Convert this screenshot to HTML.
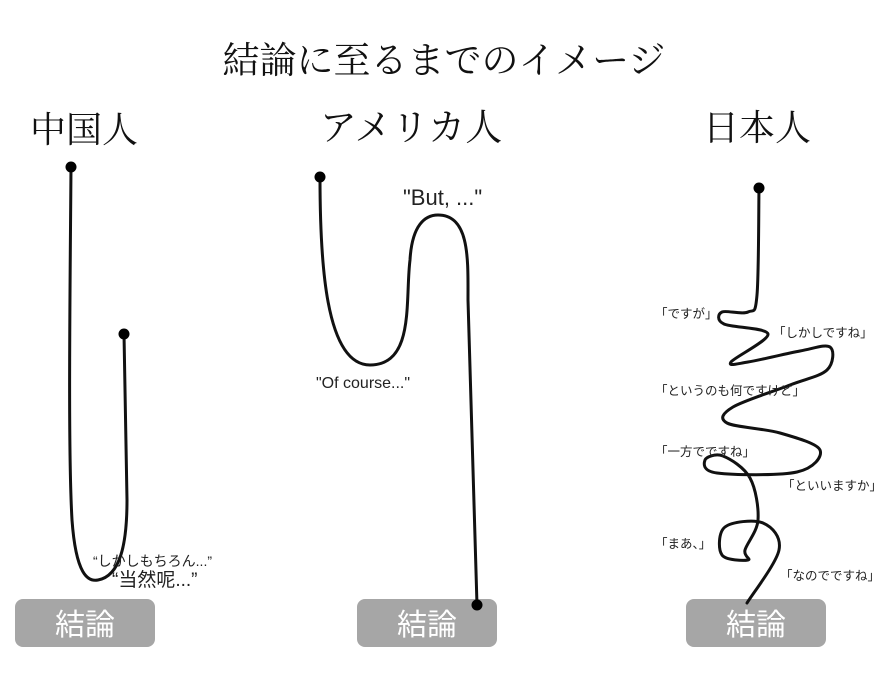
<!DOCTYPE html>
<html><head><meta charset="utf-8"><style>
body{margin:0;background:#fff;width:888px;height:700px;overflow:hidden}
svg{display:block}
.s{font-family:"Liberation Serif","Noto Serif CJK SC",serif}
.a{font-family:"Liberation Sans","Noto Sans CJK JP",sans-serif}
</style></head><body>
<svg width="888" height="700" viewBox="0 0 888 700" xmlns="http://www.w3.org/2000/svg">
<text class="s" x="444" y="73" font-size="37" text-anchor="middle" fill="#111">結論に至るまでのイメージ</text>
<text class="s" x="84" y="142" font-size="36" text-anchor="middle" fill="#111">中国人</text>
<text class="s" x="411" y="140" font-size="37" text-anchor="middle" fill="#111">アメリカ人</text>
<text class="s" x="757" y="140" font-size="36" text-anchor="middle" fill="#111">日本人</text>

<g fill="#a6a6a6">
<rect x="15" y="599" width="140" height="48" rx="8"/>
<rect x="357" y="599" width="140" height="48" rx="8"/>
<rect x="686" y="599" width="140" height="48" rx="8"/>
</g>
<g class="a" font-size="30" fill="#fff" text-anchor="middle">
<text x="85" y="635">結論</text>
<text x="427" y="635">結論</text>
<text x="756" y="635">結論</text>
</g>

<g fill="none" stroke="#111" stroke-width="3" stroke-linecap="round">
<path d="M71,167 C70,300 68,450 72,520 C76,575 88,582 98,580 C120,576 127,545 127,500 L124,334"/>
<path d="M320,177 C320,260 325,365 370,365 C415,365 405,300 410,260 C412,225 425,215 438,215 C470,215 468,260 468,300 L477,605"/>
<path id="jp"/>
</g>
<g fill="#000">
<circle cx="71" cy="167" r="5.5"/><circle cx="124" cy="334" r="5.5"/>
<circle cx="320" cy="177" r="5.5"/><circle cx="477" cy="605" r="5.5"/>
<circle cx="759" cy="188" r="5.5"/>
</g>

<g class="a" fill="#222">
<text x="93" y="566" font-size="14">“しかしもちろん...”</text>
<text x="112" y="586" font-size="19">“当然呢...”</text>
<text x="403" y="205" font-size="22">"But, ..."</text>
<text x="316" y="388" font-size="16">"Of course..."</text>
<g font-size="12.5">
<text x="655" y="318">「ですが」</text>
<text x="773" y="337">「しかしですね」</text>
<text x="655" y="395">「というのも何ですけど」</text>
<text x="655" y="456">「一方でですね」</text>
<text x="782" y="490">「といいますか」</text>
<text x="655" y="548">「まあ、」</text>
<text x="780" y="580">「なのでですね」</text>
</g>
</g>
</svg>
<script>
var p=[[759,188],[757,295],[748,312],[722,312],[724,324],[768,334],[731,362],[748,362],[800,351],[830,347],[827,370],[790,385],[733,407],[727,423],[780,433],[820,450],[797,472],[717,473],[705,460],[723,456],[750,478],[758,520],[745,550],[748,560],[722,555],[725,527],[763,523],[779,550],[747,603]];
var d="M"+p[0];
for(var i=0;i<p.length-1;i++){var a=p[i-1]||p[i],b=p[i],c=p[i+1],e=p[i+2]||c;
d+=" C"+(b[0]+(c[0]-a[0])/6)+","+(b[1]+(c[1]-a[1])/6)+" "+(c[0]-(e[0]-b[0])/6)+","+(c[1]-(e[1]-b[1])/6)+" "+c[0]+","+c[1];}
document.getElementById("jp").setAttribute("d",d);
</script>
</body></html>
